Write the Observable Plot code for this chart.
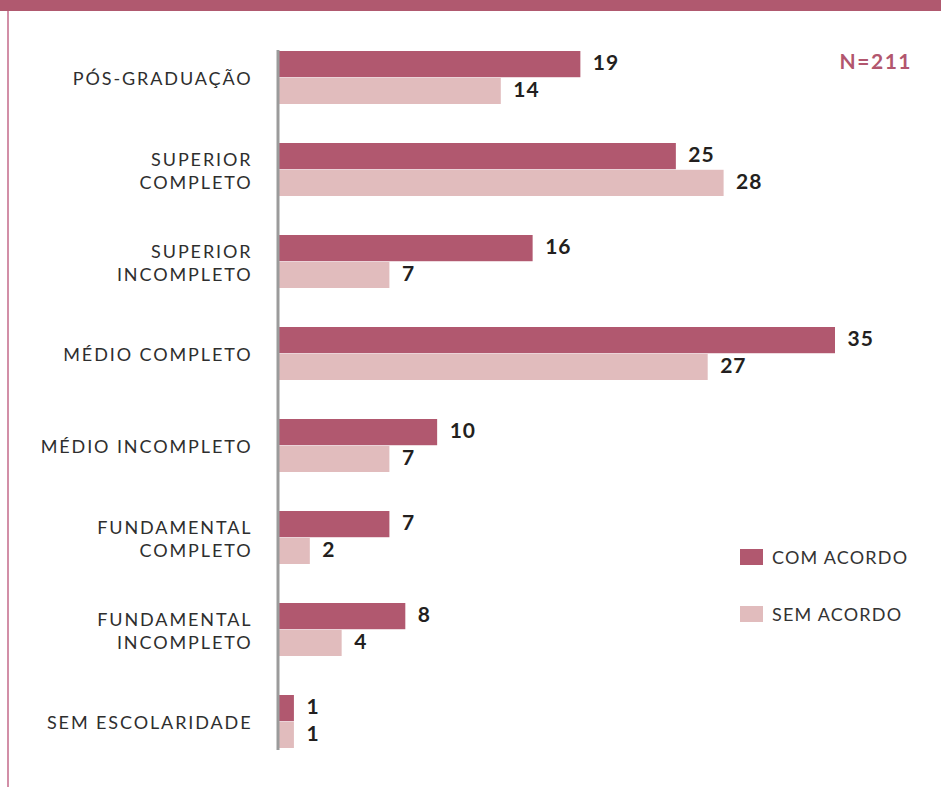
<!DOCTYPE html>
<html>
<head>
<meta charset="utf-8">
<script src="https://cdn.jsdelivr.net/npm/d3@7"></script>
<script src="https://cdn.jsdelivr.net/npm/@observablehq/plot@0.6"></script>
<style>
  body { margin: 0; background: #fff; }
  #wrap { position: relative; width: 941px; height: 787px; overflow: hidden; font-family: Lato, "Open Sans", sans-serif; }
  #topbar { position: absolute; left: 0; top: 0; width: 941px; height: 11px; background: #b0596f; }
  #leftbar { position: absolute; left: 7px; top: 11px; width: 2px; height: 776px; background: #d28fa7; }
  #nlabel { position: absolute; right: 29px; top: 48px; font-weight: 700; font-size: 21px; color: #b2566e; letter-spacing: 1.5px; }
  .leg { position: absolute; left: 740px; display: flex; align-items: center; font-size: 18px; font-weight: 400; color: #333; letter-spacing: 1.2px; }
  .leg span.sw { display: inline-block; width: 23px; height: 16px; margin-right: 9px; }
  #chart { position: absolute; left: 0; top: 0; }
  #chart g[aria-label="y-axis tick label"] text { letter-spacing: 1.9px; }
  #chart g[aria-label="text"] text { letter-spacing: 1px; }
</style>
</head>
<body>
<div id="wrap">
  <div id="chart"></div>
  <div id="topbar"></div>
  <div id="leftbar"></div>
  <div id="nlabel"></div>
  <div class="leg" id="leg0" style="top:546px"></div>
  <div class="leg" id="leg1" style="top:603px"></div>
</div>
<script>
const categories = ["PÓS-GRADUAÇÃO","SUPERIOR COMPLETO","SUPERIOR INCOMPLETO","MÉDIO COMPLETO","MÉDIO INCOMPLETO","FUNDAMENTAL COMPLETO","FUNDAMENTAL INCOMPLETO","SEM ESCOLARIDADE"];
const tickLabels = ["PÓS-GRADUAÇÃO","SUPERIOR\nCOMPLETO","SUPERIOR\nINCOMPLETO","MÉDIO COMPLETO","MÉDIO INCOMPLETO","FUNDAMENTAL\nCOMPLETO","FUNDAMENTAL\nINCOMPLETO","SEM ESCOLARIDADE"];
const comAcordo = [19,25,16,35,10,7,8,1];
const semAcordo = [14,28,7,27,7,2,4,1];
const seriesNames = ["COM ACORDO","SEM ACORDO"];
const seriesColors = ["#b1586f","#e1bcbd"];
const totalN = "N=211";

const data = categories.map((c, i) => ({cat: c, com: comAcordo[i], sem: semAcordo[i]}));
const labelMap = new Map(categories.map((c, i) => [c, tickLabels[i]]));

const marginTop = 50, marginBottom = 37, height = 787;
const paddingInner = 0.42;
const step = (height - marginTop - marginBottom) / (categories.length - paddingInner);
const half = step * (1 - paddingInner) / 2;

const chart = Plot.plot({
  width: 941,
  height,
  marginLeft: 278,
  marginRight: 106,
  marginTop,
  marginBottom,
  style: {fontFamily: "Lato, 'Open Sans', sans-serif", color: "#333", background: "transparent"},
  x: {domain: [0, 35], axis: null},
  y: {domain: categories, paddingInner, paddingOuter: 0, axis: null},
  marks: [
    Plot.barX(data, {x: "com", y: "cat", fill: seriesColors[0], insetBottom: half}),
    Plot.barX(data, {x: "sem", y: "cat", fill: seriesColors[1], insetTop: half}),
    Plot.ruleX([0], {stroke: "#9b9b9b", strokeWidth: 3, dx: -0.5}),
    Plot.axisY({label: null, tickSize: 0, tickPadding: 26, fontSize: 18, lineHeight: 1.28, tickFormat: d => labelMap.get(d), fill: "#2e2e2e", fontWeight: 400}),
    Plot.text(data, {x: "com", y: "cat", text: d => String(d.com), dy: -half / 2 - 1, dx: 12, textAnchor: "start", fontWeight: 700, fontSize: 21, fill: "#231f20"}),
    Plot.text(data, {x: "sem", y: "cat", text: d => String(d.sem), dy: half / 2 - 1, dx: 12, textAnchor: "start", fontWeight: 700, fontSize: 21, fill: "#231f20"})
  ]
});
document.getElementById("chart").appendChild(chart);
document.getElementById("nlabel").textContent = totalN;
seriesNames.forEach((s, i) => {
  const el = document.getElementById("leg" + i);
  const sw = document.createElement("span");
  sw.className = "sw";
  sw.style.background = seriesColors[i];
  el.appendChild(sw);
  el.appendChild(document.createTextNode(s));
});
</script>
</body>
</html>
